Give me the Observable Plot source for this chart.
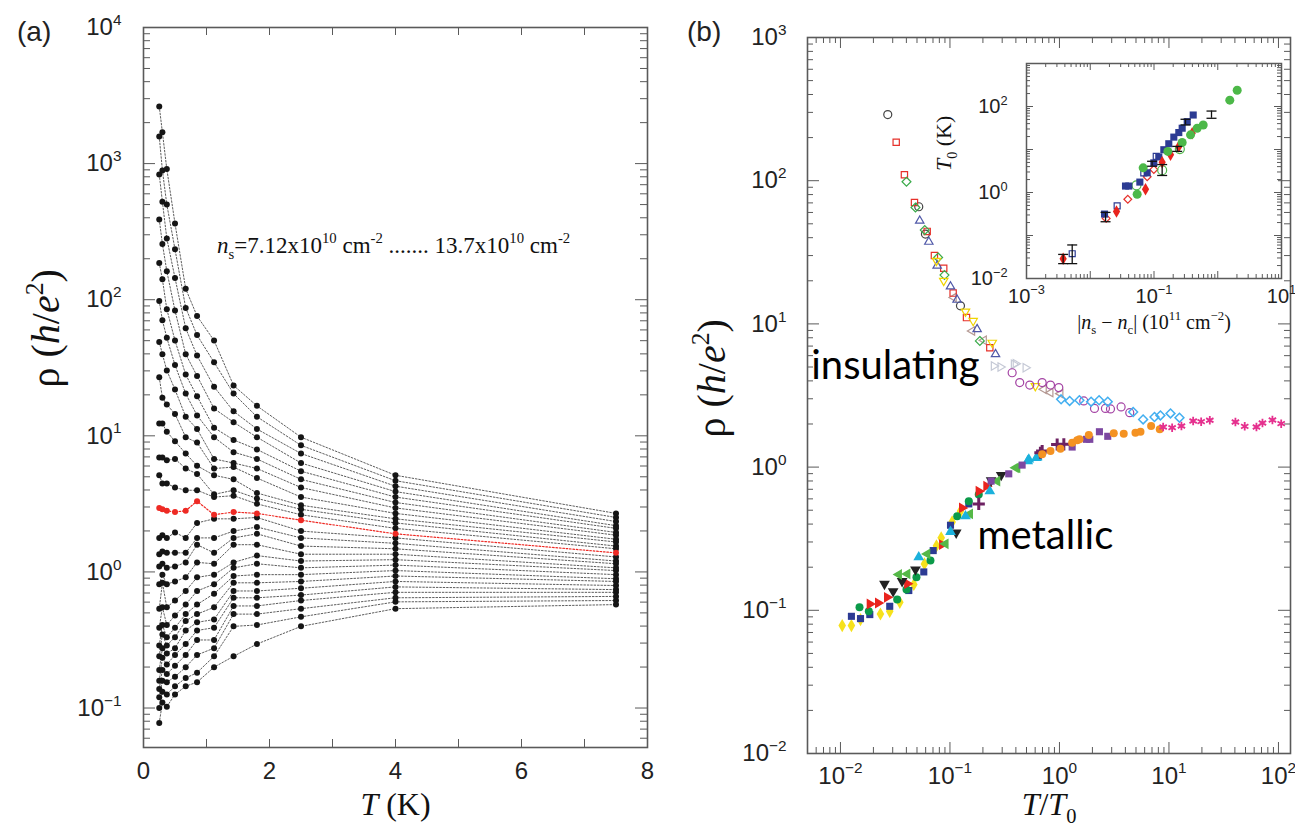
<!DOCTYPE html>
<html><head><meta charset="utf-8">
<script src="https://cdn.jsdelivr.net/npm/d3@7"></script>
<script src="https://cdn.jsdelivr.net/npm/@observablehq/plot@0.6"></script>
<style>
html,body{margin:0;padding:0;background:#fff}
body{width:1295px;height:830px;overflow:hidden;position:relative;font-family:"Liberation Sans",Arial,sans-serif;color:#222}
.abs{position:absolute}
.plabel{font-size:28px;line-height:1}
</style></head><body>
<div id="pa" class="abs" style="left:0;top:0"></div>
<div id="pb" class="abs" style="left:660px;top:0"></div>
<div id="pc" class="abs" style="left:940px;top:40px"></div>
<div class="abs plabel" style="left:17px;top:18px">(a)</div>
<div class="abs plabel" style="left:687px;top:18px">(b)</div>
<script>
// ---------------- Panel (a) data: log10 of rho (h/e^2), 26 curves top -> bottom, curve 11 = critical (red)
const temps = [0.25, 0.3, 0.37, 0.5, 0.67, 0.85, 1.12, 1.43, 1.8, 2.5, 4, 7.5];
const logRho_T025 = [3.42, 3.20, 2.92, 2.59, 2.27, 1.99, 1.69, 1.43, 1.09, 0.84, 0.71, 0.47, 0.25, 0.13, 0.04, -0.09, -0.27, -0.41, -0.54, -0.62, -0.72, -0.80, -0.86, -0.92, -1.00, -1.11];
const logRho_T030 = [3.23, 2.95, 2.72, 2.41, 2.15, 1.85, 1.60, 1.28, 1.09, 0.84, 0.65, 0.46, 0.27, 0.15, 0.06, -0.02, -0.08, -0.26, -0.39, -0.46, -0.56, -0.63, -0.72, -0.80, -0.88, -0.96];
const logRho_T037 = [2.96, 2.70, 2.45, 2.21, 1.93, 1.72, 1.48, 1.23, 1.03, 0.82, 0.65, 0.45, 0.25, 0.14, 0.03, -0.09, -0.26, -0.39, -0.48, -0.54, -0.60, -0.68, -0.75, -0.81, -0.90, -0.99];
const logRho_T050 = [2.56, 2.37, 2.16, 1.92, 1.70, 1.52, 1.34, 1.16, 0.96, 0.83, 0.62, 0.44, 0.29, 0.14, 0.04, -0.07, -0.21, -0.32, -0.41, -0.48, -0.56, -0.61, -0.69, -0.77, -0.84, -0.90];
const logRho_T067 = [2.08, 1.94, 1.79, 1.60, 1.45, 1.31, 1.14, 0.99, 0.87, 0.76, 0.60, 0.45, 0.25, 0.14, 0.07, -0.04, -0.14, -0.24, -0.31, -0.36, -0.43, -0.53, -0.61, -0.70, -0.78, -0.84];
const logRho_T085 = [1.88, 1.74, 1.59, 1.44, 1.29, 1.15, 1.05, 0.95, 0.78, 0.72, 0.60, 0.52, 0.36, 0.25, 0.20, 0.07, -0.04, -0.14, -0.24, -0.31, -0.37, -0.43, -0.50, -0.61, -0.74, -0.81];
const logRho_T112 = [1.70, 1.54, 1.36, 1.20, 1.06, 0.99, 0.83, 0.76, 0.71, 0.57, 0.55, 0.42, 0.39, 0.25, 0.14, 0.06, -0.02, -0.09, -0.16, -0.26, -0.35, -0.41, -0.50, -0.56, -0.62, -0.70];
const logRho_T143 = [1.37, 1.31, 1.18, 1.10, 0.97, 0.88, 0.80, 0.77, 0.68, 0.60, 0.56, 0.44, 0.39, 0.30, 0.25, 0.20, 0.07, 0.03, -0.03, -0.08, -0.14, -0.19, -0.25, -0.31, -0.40, -0.62];
const logRho_T180 = [1.22, 1.14, 1.05, 0.99, 0.90, 0.83, 0.76, 0.69, 0.58, 0.54, 0.50, 0.43, 0.40, 0.33, 0.28, 0.20, 0.12, 0.06, -0.02, -0.08, -0.14, -0.19, -0.25, -0.31, -0.39, -0.53];
const logRho_T250 = [0.99, 0.93, 0.87, 0.80, 0.74, 0.68, 0.62, 0.55, 0.49, 0.46, 0.42, 0.38, 0.30, 0.25, 0.19, 0.13, 0.08, 0.03, -0.02, -0.07, -0.12, -0.17, -0.21, -0.27, -0.33, -0.40];
const logRho_T400 = [0.71, 0.67, 0.63, 0.59, 0.55, 0.51, 0.47, 0.43, 0.39, 0.36, 0.32, 0.28, 0.25, 0.21, 0.17, 0.13, 0.09, 0.05, 0.01, -0.03, -0.07, -0.11, -0.15, -0.19, -0.22, -0.27];
const logRho_T750 = [0.43, 0.40, 0.37, 0.34, 0.32, 0.29, 0.27, 0.24, 0.22, 0.19, 0.17, 0.14, 0.11, 0.08, 0.06, 0.03, 0.01, -0.02, -0.05, -0.07, -0.10, -0.13, -0.15, -0.18, -0.21, -0.24];
const logRhoColumns = [logRho_T025, logRho_T030, logRho_T037, logRho_T050, logRho_T067, logRho_T085, logRho_T112, logRho_T143, logRho_T180, logRho_T250, logRho_T400, logRho_T750];
const criticalCurve = 11;
const xTicksA = [0, 2, 4, 6, 8];
const yTicksA = [0.1, 1, 10, 100, 1000, 10000];

// ---------------- Panel (b) data: [log10(T/T0), log10(rho)]
const insBlackCircle = [[-1.568,2.462],[-1.285,1.818],[-1.224,1.627],[-0.904,1.126]];
const insRedSquare = [[-1.491,2.268],[-1.416,2.042],[-1.324,1.848],[-1.208,1.646],[-1.142,1.478],[-1.057,1.389],[-0.971,1.215],[-0.849,1.044],[-0.636,0.834]];
const insGreenDiamond = [[-1.397,1.993],[-1.315,1.813],[-1.230,1.655],[-1.108,1.464],[-1.05,1.341],[-0.727,0.881]];
const insBlueTriangle = [[-1.276,1.720],[-1.193,1.573],[-1.117,1.406],[-0.995,1.261],[-0.935,1.168],[-0.752,0.963],[-0.584,0.788]];
const insYellowTriangleDown = [[-1.123,1.441],[-1.057,1.301],[-0.858,1.086],[-0.788,1.021],[-0.614,0.869],[-0.22,0.566]];
const insTaupeTriangleLeft = [[-0.965,1.184],[-0.797,0.951],[-0.690,0.886],[-0.143,0.543],[-0.082,0.520],[0.009,0.513]];
const insGreyTriangleRight = [[-0.600,0.706],[-0.539,0.699],[-0.417,0.718],[-0.31,0.694],[-0.40,0.722]];
const insPurpleCircle = [[-0.432,0.659],[-0.363,0.590],[-0.271,0.573],[-0.158,0.590],[-0.082,0.573],[-0.006,0.555],[0.222,0.462],[0.320,0.410],[0.42,0.41],[0.466,0.406],[0.563,0.420],[0.642,0.380]];
const insSkyDiamond = [[0.015,0.473],[0.093,0.462],[0.182,0.467],[0.289,0.457],[0.362,0.467],[0.441,0.457],[0.673,0.385],[0.764,0.333],[0.868,0.350],[0.922,0.361],[1.014,0.375],[1.096,0.345]];

const metYellowDiamond = [[-1.984,-1.107],[-1.90,-1.107],[-1.817,-1.065],[-1.635,-1.026],[-1.55,-1.007],[-1.458,-0.944],[-1.33,-0.820],[-1.233,-0.676],[-1.123,-0.550],[-1.08,-0.494],[-0.98,-0.383],[-0.904,-0.308]];
const metNavySquare = [[-1.90,-1.042],[-1.817,-1.058],[-1.732,-1.030],[-1.55,-0.972],[-1.376,-0.862],[-1.239,-0.732],[-1.153,-0.583],[-0.995,-0.406],[-0.828,-0.257]];
const metGreenCircle = [[-1.826,-0.979],[-1.741,-1.007],[-1.482,-0.925],[-1.397,-0.855],[-1.306,-0.769],[-1.178,-0.652],[-0.934,-0.343],[-0.828,-0.238],[-0.737,-0.191]];
const metRedTriangleRight = [[-1.732,-0.956],[-1.656,-0.949],[-1.574,-0.909],[-1.39,-0.814],[-1.071,-0.541],[-0.889,-0.285],[-0.737,-0.168],[-0.667,-0.133]];
const metBlackTriangleDown = [[-1.598,-0.816],[-1.519,-0.867],[-1.437,-0.797],[-1.315,-0.715],[-0.943,-0.458],[-0.624,-0.093],[-0.532,-0.056]];
const metGreenTriangleLeft = [[-1.467,-0.750],[-1.39,-0.746],[-1.208,-0.606],[-1.041,-0.536],[-0.818,-0.326],[-0.569,-0.098],[-0.386,-0.005],[-0.40,-0.005]];
const metCyanTriangle = [[-1.285,-0.629],[-0.995,-0.452],[-0.858,-0.343],[-0.636,-0.168],[-0.29,0.042],[-0.28,0.054],[-0.21,0.065],[-0.203,0.070]];
const metPurpleSquare = [[-0.624,-0.098],[-0.463,-0.047],[-0.341,0.014],[0.116,0.140],[0.247,0.194],[0.277,0.194],[0.365,0.247],[0.441,0.215]];
const metPlumCross = [[-0.737,-0.257],[-0.174,0.100],[-0.158,0.112],[-0.021,0.158],[0.040,0.159]];
const metOrangeCircle = [[-0.158,0.089],[-0.082,0.112],[0.009,0.128],[0.116,0.170],[0.162,0.187],[0.183,0.194],[0.268,0.224],[0.496,0.236],[0.587,0.233],[0.694,0.240],[0.740,0.247],[0.837,0.287],[0.916,0.264]];
const metPinkAsterisk = [[0.947,0.280],[1.029,0.275],[1.114,0.287],[1.221,0.322],[1.294,0.317],[1.373,0.327],[1.607,0.315],[1.692,0.285],[1.799,0.280],[1.854,0.308],[1.945,0.329],[2.025,0.303]];
const xTicksB = [0.01, 0.1, 1, 10, 100];
const yTicksB = [0.01, 0.1, 1, 10, 100, 1000];

// ---------------- Inset data: [log10 |ns-nc|, log10 T0]
const insetNavySquare = [[-1.776,-0.502],[-1.447,0.150],[-1.395,0.150],[-1.222,0.242],[-1.107,0.458],[-1.003,0.689],[-0.925,0.827],[-0.846,0.995],[-0.768,1.134],[-0.689,1.288],[-0.611,1.394],[-0.558,1.495],[-0.479,1.648],[-0.385,1.802]];
const insetBlueOpenSquare = [[-2.283,-1.424],[-1.578,-0.311],[-1.16,0.458],[-0.965,0.841]];
const insetRedDiamond = [[-2.425,-1.539],[-1.588,-0.44],[-1.133,0.074],[-0.872,0.703],[-0.741,0.880],[-0.611,1.072],[-0.401,1.380]];
const insetRedOpenDiamond = [[-1.75,-0.602],[-1.411,-0.157],[-1.107,0.366],[-1.003,0.535]];
const insetGreenCircle = [[-1.264,-0.041],[-1.170,0.574],[-0.783,0.956],[-0.558,1.164],[-0.427,1.341],[-0.323,1.495],[-0.228,1.571],[0.189,2.147],[0.305,2.378]];
const insetGreenOpenCircle = [[-1.275,0.166],[-0.872,0.519],[-0.595,1.011]];
const insetErrorBars = [[-2.425,-1.654,-1.44],[-2.283,-1.654,-1.22],[-1.76,-0.68,-0.463],[-1.03,0.611,0.726],[-0.872,0.396,0.65],[-0.636,0.956,1.072],[-0.506,1.571,1.703],[-0.098,1.726,1.894]];
const xTicksInset = [0.001, 0.1, 10];
const yTicksInset = [0.01, 1, 100];

// ---------------- helpers
const SERIF = "'Liberation Serif','Times New Roman',serif";
const SANS = "'Liberation Sans',Arial,sans-serif";
const AX = "#5a5a5a";
const pow10 = d => `10^{${String(Math.round(Math.log10(d))).replace("-", "\u2212")}}`;
function logMinor(lo, hi) { const out = []; for (let e = Math.floor(lo); e < Math.ceil(hi); e++) for (let k = 2; k <= 9; k++) { const v = k * 10 ** e; if (Math.log10(v) > lo && Math.log10(v) < hi) out.push(v); } return out; }
function logMajor(lo, hi) { const out = []; for (let e = Math.ceil(lo); e <= Math.floor(hi); e++) out.push(10 ** e); return out; }
function yTicks(values, len, fw, sw = 1) {
  return [Plot.tickY(values, {y: d => d, insetRight: fw - len, stroke: AX, strokeWidth: sw}),
          Plot.tickY(values, {y: d => d, insetLeft: fw - len, stroke: AX, strokeWidth: sw})];
}
function xTicks(values, len, fh, sw = 1) {
  return [Plot.tickX(values, {x: d => d, insetTop: fh - len, stroke: AX, strokeWidth: sw}),
          Plot.tickX(values, {x: d => d, insetBottom: fh - len, stroke: AX, strokeWidth: sw})];
}
function richify(svg) {
  svg.querySelectorAll("text").forEach(t => {
    const s = t.textContent;
    if (!/[\^_~]\{/.test(s)) return;
    const fs = parseFloat(getComputedStyle(t).fontSize) || 20;
    t.textContent = "";
    const re = /([\^_~])\{([^}]*)\}|([^\^_~]+)/g;
    let m, shift = 0;
    while ((m = re.exec(s))) {
      const ts = document.createElementNS("http://www.w3.org/2000/svg", "tspan");
      let target = 0, size = null, italic = false, text;
      if (m[3] !== undefined) text = m[3];
      else {
        text = m[2];
        if (m[1] === "^") { target = -0.42 * fs; size = 0.64 * fs; }
        else if (m[1] === "_") { target = 0.28 * fs; size = 0.64 * fs; }
        else italic = true;
      }
      const dy = target - shift; shift = target;
      if (dy) ts.setAttribute("dy", dy.toFixed(2));
      if (size) ts.setAttribute("font-size", size.toFixed(2));
      if (italic) ts.setAttribute("font-style", "italic");
      ts.textContent = text;
      t.appendChild(ts);
    }
  });
}
const P = d => 10 ** d[0], Q = d => 10 ** d[1];
function series(arr, opts) { return Plot.dot(arr, {x: P, y: Q, r: 4, ...opts}); }
const openS = (symbol, color, extra = {}) => ({symbol, stroke: color, fill: "none", strokeWidth: 1.2, ...extra});
const fillS = (symbol, color, extra = {}) => ({symbol, fill: color, stroke: "none", ...extra});

// ---------------- Panel (a)
{
  const W = 660, H = 830, m = {l: 143, r: 13, t: 27, b: 83};
  const fw = W - m.l - m.r, fh = H - m.t - m.b;
  const yLo = -1.29, yHi = 4;
  const rows = [];
  logRhoColumns.forEach((col, j) => col.forEach((v, i) => rows.push({T: temps[j], rho: 10 ** v, curve: i})));
  const black = rows.filter(d => d.curve !== criticalCurve);
  const red = rows.filter(d => d.curve === criticalCurve);
  const plot = Plot.plot({
    width: W, height: H, marginLeft: m.l, marginRight: m.r, marginTop: m.t, marginBottom: m.b,
    style: {background: "transparent", fontFamily: SANS, overflow: "visible"},
    x: {type: "linear", domain: [0, 8]},
    y: {type: "log", domain: [10 ** yLo, 10 ** yHi]},
    marks: [
      Plot.line(black, {x: "T", y: "rho", z: "curve", stroke: "#4a4a4a", strokeWidth: 0.9, strokeDasharray: "1.6,1.8"}),
      Plot.line(red, {x: "T", y: "rho", stroke: "#ee2a24", strokeWidth: 1.2, strokeDasharray: "1.6,1.8"}),
      Plot.dot(black, {x: "T", y: "rho", r: 3, fill: "#151515"}),
      Plot.dot(red, {x: "T", y: "rho", r: 3, fill: "#ee2a24"}),
      ...yTicks(logMajor(yLo, yHi), 12, fw),
      ...yTicks(logMinor(yLo, yHi), 7, fw),
      ...xTicks(d3.range(1, 8), 8, fh),
      Plot.frame({stroke: AX, strokeWidth: 1.6}),
      Plot.axisY(yTicksA, {tickSize: 0, tickPadding: 22, tickFormat: pow10, fontSize: 24, fontFamily: SANS, fill: "#222", label: null}),
      Plot.axisX(xTicksA, {tickSize: 0, tickPadding: 14, tickFormat: d => String(d), fontSize: 24, fontFamily: SANS, fill: "#222", label: null}),
      Plot.text(["~{T} (K)"], {frameAnchor: "bottom", dy: 67, fontSize: 32, fontFamily: SERIF, fill: "#111"}),
      Plot.text(["\u03c1 (~{h}/~{e}^{2})"], {frameAnchor: "left", rotate: -90, dx: -97, fontSize: 40, fontFamily: SERIF, fill: "#111"}),
      Plot.text(["~{n}_{s}=7.12x10^{10} cm^{-2} ....... 13.7x10^{10} cm^{-2}"], {x: 3.97, y: 250, fontSize: 23, fontFamily: SERIF, fill: "#111"})
    ]
  });
  document.getElementById("pa").appendChild(plot);
  richify(plot);
}

// ---------------- Panel (b)
{
  const W = 635, H = 830, m = {l: 147, r: 5, t: 37, b: 77};
  const fw = W - m.l - m.r, fh = H - m.t - m.b;
  const xLo = -2.301, xHi = 2.11, yLo = -2, yHi = 3;
  const plot = Plot.plot({
    width: W, height: H, marginLeft: m.l, marginRight: m.r, marginTop: m.t, marginBottom: m.b,
    style: {background: "transparent", fontFamily: SANS, overflow: "visible"},
    x: {type: "log", domain: [10 ** xLo, 10 ** xHi]},
    y: {type: "log", domain: [10 ** yLo, 10 ** yHi]},
    marks: [
      ...yTicks(logMajor(yLo, yHi), 12, fw),
      ...yTicks(logMinor(yLo, yHi), 6, fw),
      ...xTicks(logMajor(xLo, xHi), 11, fh),
      ...xTicks(logMinor(xLo, xHi), 6, fh),
      Plot.frame({stroke: AX, strokeWidth: 1.6}),
      // insulating (open symbols)
      series(insGreyTriangleRight, openS("triangle2", "#c5c9d6", {rotate: 90})),
      series(insTaupeTriangleLeft, openS("triangle2", "#b59a94", {rotate: -90})),
      series(insBlackCircle, openS("circle", "#444")),
      series(insRedSquare, openS("square2", "#e6302a")),
      series(insGreenDiamond, openS("diamond2", "#3aab4a")),
      series(insBlueTriangle, openS("triangle2", "#4f58a8")),
      series(insYellowTriangleDown, openS("triangle2", "#f0d400", {rotate: 180})),
      series(insPurpleCircle, openS("circle", "#a443a4")),
      series(insSkyDiamond, openS("diamond2", "#43aff0", {strokeWidth: 1.5})),
      // metallic (filled symbols)
      series(metYellowDiamond, fillS("diamond", "#f6e11c")),
      series(metNavySquare, fillS("square", "#2c3b93")),
      series(metGreenCircle, fillS("circle", "#0b9a49")),
      series(metRedTriangleRight, fillS("triangle", "#e9241d", {rotate: 90})),
      series(metBlackTriangleDown, fillS("triangle", "#222", {rotate: 180})),
      series(metGreenTriangleLeft, fillS("triangle", "#55b848", {rotate: -90})),
      series(metCyanTriangle, fillS("triangle", "#1bb1dc")),
      series(metPurpleSquare, fillS("square", "#7c47a1")),
      series(metPlumCross, {symbol: "plus", stroke: "#6d2162", strokeWidth: 3, fill: "none", r: 4}),
      series(metOrangeCircle, fillS("circle", "#f49222")),
      series(metPinkAsterisk, {symbol: "asterisk", stroke: "#e5308e", strokeWidth: 1.8, fill: "none", r: 4}),
      Plot.axisY(yTicksB, {tickSize: 0, tickPadding: 21, tickFormat: pow10, fontSize: 24, fontFamily: SANS, fill: "#222", label: null}),
      Plot.axisX(xTicksB, {tickSize: 0, tickPadding: 13, tickFormat: pow10, fontSize: 24, fontFamily: SANS, fill: "#222", label: null}),
      Plot.text(["~{T}/~{T}_{0}"], {frameAnchor: "bottom", dy: 61, fontSize: 32, fontFamily: SERIF, fill: "#111"}),
      Plot.text(["\u03c1 (~{h}/~{e}^{2})"], {frameAnchor: "left", rotate: -90, dx: -95, dy: 42, fontSize: 40, fontFamily: SERIF, fill: "#111"}),
      Plot.text(["insulating"], {x: 10 ** -1.498, y: 10 ** 0.706, fontSize: 40, fontFamily: "Lato, 'Open Sans', sans-serif", fill: "#000"}),
      Plot.text(["metallic"], {x: 10 ** -0.128, y: 10 ** -0.483, fontSize: 40, fontFamily: "Lato, 'Open Sans', sans-serif", fill: "#000"})
    ]
  });
  document.getElementById("pb").appendChild(plot);
  richify(plot);
}

// ---------------- Inset
{
  const W = 350, H = 300, m = {l: 86, r: 9, t: 23, b: 62};
  const fw = W - m.l - m.r, fh = H - m.t - m.b;
  const xLo = -3, xHi = 1, yLo = -2, yHi = 3;
  const cap = {draw(ctx) { ctx.moveTo(-5, 0); ctx.lineTo(5, 0); }};
  const plot = Plot.plot({
    width: W, height: H, marginLeft: m.l, marginRight: m.r, marginTop: m.t, marginBottom: m.b,
    style: {background: "transparent", fontFamily: SANS, overflow: "visible"},
    x: {type: "log", domain: [10 ** xLo, 10 ** xHi]},
    y: {type: "log", domain: [10 ** yLo, 10 ** yHi]},
    marks: [
      ...yTicks(logMajor(yLo, yHi), 7, fw),
      ...yTicks(logMinor(yLo, yHi), 4, fw),
      ...xTicks(logMajor(xLo, xHi), 7, fh),
      ...xTicks(logMinor(xLo, xHi), 4, fh),
      Plot.frame({stroke: AX, strokeWidth: 1.5}),
      series(insetRedOpenDiamond, openS("diamond2", "#e6302a", {r: 3.5})),
      series(insetBlueOpenSquare, openS("square2", "#2c3b93", {r: 3.8})),
      series(insetGreenOpenCircle, openS("circle", "#4cb848", {r: 4.5})),
      series(insetNavySquare, fillS("square", "#2c3b93", {r: 4})),
      series(insetRedDiamond, fillS("diamond", "#e9241d", {r: 3.8})),
      series(insetGreenCircle, fillS("circle", "#4cb848", {r: 4.5})),
      Plot.ruleX(insetErrorBars, {x: d => 10 ** d[0], y1: d => 10 ** d[1], y2: d => 10 ** d[2], stroke: "#111", strokeWidth: 1.3}),
      Plot.dot(insetErrorBars, {x: d => 10 ** d[0], y: d => 10 ** d[1], symbol: cap, fill: "none", stroke: "#111", strokeWidth: 1.3}),
      Plot.dot(insetErrorBars, {x: d => 10 ** d[0], y: d => 10 ** d[2], symbol: cap, fill: "none", stroke: "#111", strokeWidth: 1.3}),
      Plot.axisY(yTicksInset, {tickSize: 0, tickPadding: 19, tickFormat: pow10, fontSize: 20, fontFamily: SANS, fill: "#222", label: null}),
      Plot.axisX(xTicksInset, {tickSize: 0, tickPadding: 10, tickFormat: pow10, fontSize: 20, fontFamily: SANS, fill: "#222", label: null}),
      Plot.text(["|~{n}_{s} \u2212 ~{n}_{c}| (10^{11} cm^{\u22122})"], {frameAnchor: "bottom", dy: 50, fontSize: 20, fontFamily: SERIF, fill: "#111"}),
      Plot.text(["~{T}_{0} (K)"], {frameAnchor: "left", rotate: -90, dx: -83, fontSize: 22, fontFamily: SERIF, fill: "#111"})
    ]
  });
  document.getElementById("pc").appendChild(plot);
  richify(plot);
}
</script>
</body></html>
